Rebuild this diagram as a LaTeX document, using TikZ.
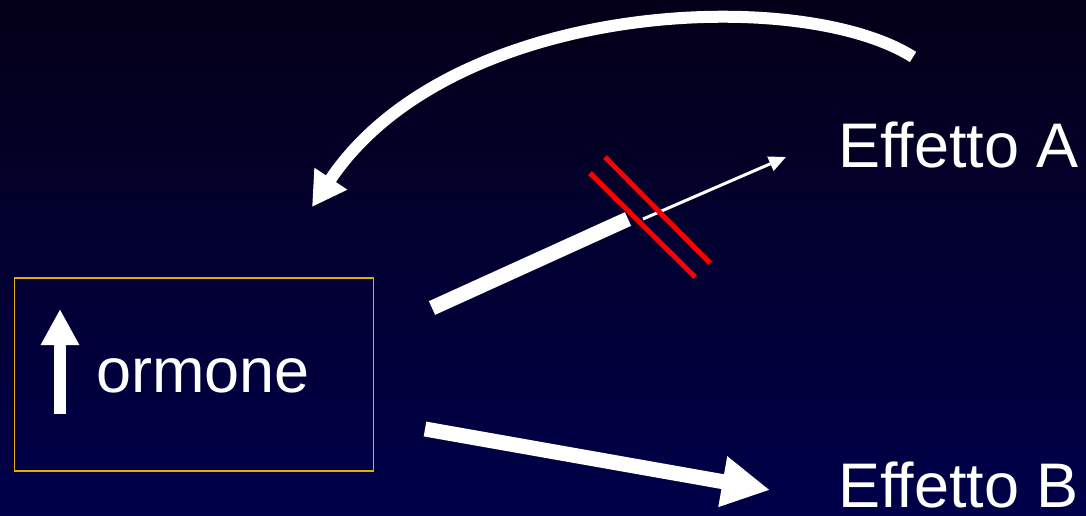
\documentclass[tikz,border=0pt]{standalone}
\usepackage{fontspec}
\setmainfont[Ligatures=NoCommon]{Liberation Sans}
\usetikzlibrary{arrows.meta}
\definecolor{bgtop}{RGB}{4,0,24}
\definecolor{bgbot}{RGB}{0,0,74}
\definecolor{boxgold}{RGB}{230,175,0}
\definecolor{crossred}{RGB}{255,0,0}
\tikzset{
  bigtext/.style={text=white, inner sep=0pt, font=\fontsize{63}{70}\selectfont},
  fatarrow/.style={draw=white, line width=15pt},
  thinarrow/.style={draw=white, line width=3pt},
  crossline/.style={draw=crossred, line width=5pt},
  hbox/.style={draw=boxgold, line width=1.5pt, minimum width=359pt, minimum height=193pt, inner sep=0pt}
}
\begin{document}
\begin{tikzpicture}[x=1pt,y=-1pt]
\shade[top color=bgtop, bottom color=bgbot] (0,0) rectangle (1086,515);
\useasboundingbox (0,0) rectangle (1086,515);
% box
\node[hbox] (box) at (194,374.5) {};
\node[bigtext, anchor=base west] (ormone) at (96,392) {ormone};
\coordinate (upS) at (60,414);
\coordinate (upT) at (60,309);
\draw[white, line width=12pt, -{Triangle[length=36pt,width=36pt]}] (upS) -- (upT);
% effect labels
\node[bigtext, anchor=base west] (effA) at (838,167) {Effetto A};
\node[bigtext, anchor=base west] (effB) at (838,507) {Effetto B};
% feedback arc
\coordinate (arcS) at (913,57);
\coordinate (arcT) at (312,207);
\draw[white, line width=12pt, -{Triangle[length=34pt,width=37pt]}] (arcS) .. controls (800,-15) and (450,0) .. (arcT);
% blocked path to A
\coordinate (barS) at (432,308);
\coordinate (barE) at (628,219);
\draw[fatarrow] (barS) -- (barE);
\coordinate (thinS) at (643,219);
\coordinate (thinT) at (786,157);
\draw[thinarrow, -{Triangle[length=17pt,width=15pt]}] (thinS) -- (thinT);
\coordinate (r1a) at (590,173);
\coordinate (r1b) at (695,277);
\coordinate (r2a) at (605,157);
\coordinate (r2b) at (710,263);
\draw[crossline] (r1a) -- (r1b);
\draw[crossline] (r2a) -- (r2b);
% path to B
\coordinate (bS) at (425,429);
\coordinate (bT) at (770,490);
\draw[fatarrow, -{Triangle[length=48pt,width=48pt]}] (bS) -- (bT);
\end{tikzpicture}
\end{document}
